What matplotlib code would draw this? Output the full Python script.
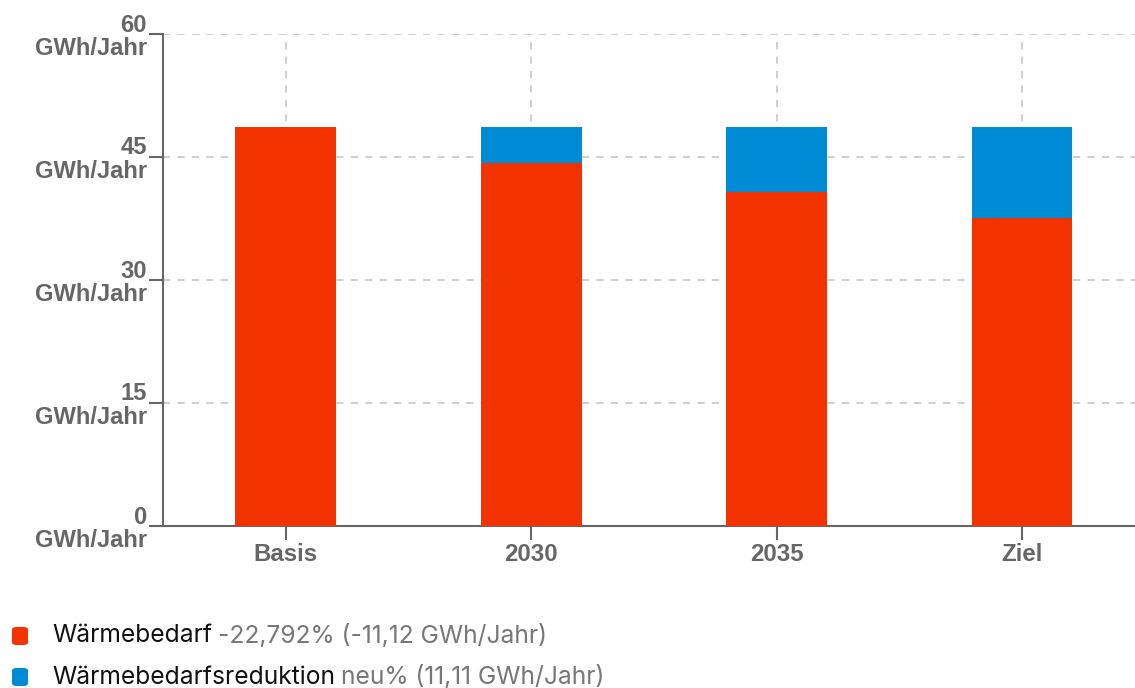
import matplotlib
matplotlib.use("Agg")
import matplotlib.pyplot as plt
from matplotlib.patches import FancyBboxPatch
import numpy as np

categories = ["Basis", "2030", "2035", "Ziel"]
demand = [48.66, 44.23, 40.77, 37.54]
reduction = [0.0, 4.43, 7.89, 11.12]
yticks = [0, 15, 30, 45, 60]
ytick_labels = [f"{v}\nGWh/Jahr" for v in yticks]
legend_names = ["Wärmebedarf", "Wärmebedarfsreduktion"]
legend_stats = ["-22,792% (-11,12 GWh/Jahr)", "neu% (11,11 GWh/Jahr)"]

RED = "#F23300"
BLUE = "#008CD5"
GREY = "#666666"

W, H = 1135, 688
fig = plt.figure(figsize=(W / 100, H / 100), dpi=100)
ax = fig.add_axes([163 / W, (H - 526) / H, (W - 163) / W, 492 / H])

x = np.arange(len(categories))
ax.bar(x, demand, width=0.41, color=RED, zorder=3)
ax.bar(x, reduction, width=0.41, bottom=demand, color=BLUE, zorder=3)

ax.set_xlim(-0.5, 3.46)
ax.set_ylim(0, 60)
ax.set_yticks(yticks)
ax.set_yticklabels(ytick_labels, fontfamily="Liberation Sans", fontweight="bold",
                   fontsize=17.1, color=GREY, linespacing=1.02)
for lbl in ax.get_yticklabels():
    lbl.set_horizontalalignment("right")
    lbl.set_multialignment("right")
ax.set_xticks(x)
ax.set_xticklabels(categories, fontfamily="Liberation Sans", fontweight="bold",
                   fontsize=17.3, color=GREY)
ax.tick_params(axis="y", length=10, width=1.5, color=GREY, pad=1.5)
ax.tick_params(axis="x", length=10, width=1.5, color=GREY, pad=2)

ax.grid(True, color="#CCCCCC", linestyle=(0, (4, 4)), linewidth=1.3, zorder=0)
for s in ["top", "right"]:
    ax.spines[s].set_visible(False)
for s in ["left", "bottom"]:
    ax.spines[s].set_color(GREY)
    ax.spines[s].set_linewidth(1.5)

# legend
colors = [RED, BLUE]
ys = [636, 677]
fig.canvas.draw()
renderer = fig.canvas.get_renderer()
for name, stat, c, yp in zip(legend_names, legend_stats, colors, ys):
    box = FancyBboxPatch((12 / W, (H - yp - 9) / H), 16 / W, 18 / H,
                         boxstyle="round,pad=0,rounding_size=0.004",
                         transform=fig.transFigure, facecolor=c, edgecolor="none")
    fig.patches.append(box)
    t = fig.text(52 / W, (H - yp) / H, name, fontfamily="Inter", fontsize=17.7,
                 color="#111111", va="center", ha="left")
    bb = t.get_window_extent(renderer)
    fig.text((bb.x1 + 6) / W, (H - yp) / H, stat, fontfamily="Inter", fontsize=17.7,
             color="#777777", va="center", ha="left")

fig.savefig("out.png", dpi=100)
